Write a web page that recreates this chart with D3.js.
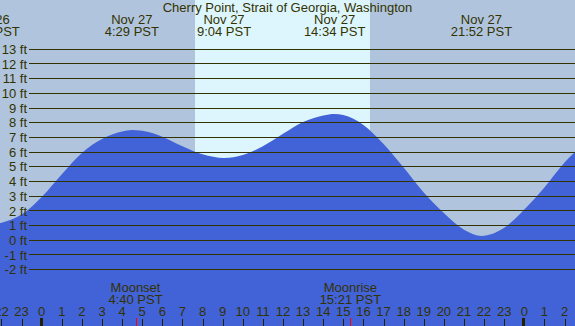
<!DOCTYPE html>
<html><head><meta charset="utf-8">
<script src="https://cdn.jsdelivr.net/npm/d3@7"></script>
<style>html,body{margin:0;padding:0;background:#b0c4de;overflow:hidden}svg{display:block}</style>
</head><body>
<svg id="c" width="575" height="326"></svg>
<script>
const title = "Cherry Point, Strait of Georgia, Washington";
// tide curve readings: hours from midnight Nov 27 (PST), height in ft
const tideHours = [-3, -2.62, -2, -1, 0, 1, 2, 3, 4, 4.48, 5, 6, 7, 8, 9.07, 10, 11, 12, 13, 14, 14.57, 15, 16, 17, 18, 19, 20, 21, 21.87, 23, 24, 25, 26, 27];
const tideFeet  = [1.15, 1.1, 1.2, 1.75, 2.95, 4.5, 5.95, 6.9, 7.4, 7.5, 7.45, 7.05, 6.4, 5.85, 5.6, 5.8, 6.4, 7.25, 8.05, 8.5, 8.6, 8.53, 7.85, 6.55, 4.95, 3.25, 1.85, 0.72, 0.3, 0.85, 2.1, 3.6, 5.3, 6.6];
// high/low tide labels
const eventHours = [-2.62, 4.483, 9.067, 14.567, 21.867];
const eventDates = ["Nov 26", "Nov 27", "Nov 27", "Nov 27", "Nov 27"];
const eventTimes = ["21:23 PST", "4:29 PST", "9:04 PST", "14:34 PST", "21:52 PST"];
// daylight
const sunrise = 7.623, sunset = 16.325;
// moon
const moonHours = [4.667, 15.35];
const moonNames = ["Moonset", "Moonrise"];
const moonTimes = ["4:40 PST", "15:21 PST"];
// axis ticks
const feetTicks = [13, 12, 11, 10, 9, 8, 7, 6, 5, 4, 3, 2, 1, 0, -1, -2];
const hourTicks = d3.range(-2, 27);

const W = 575, H = 326;
const ink = "#333300";
const svg = d3.select("#c");
const x = d3.scaleLinear().domain([0, 24]).range([41.7, 524.3]);
const y = d3.scaleLinear().domain([0, 13]).range([240.3, 49.3]);
const font = "'Liberation Sans', Arial, sans-serif";

svg.append("rect").attr("width", W).attr("height", H).attr("fill", "#b0c4de");
svg.append("rect").attr("x", x(sunrise)).attr("y", 0).attr("width", x(sunset) - x(sunrise)).attr("height", H).attr("fill", "#ddf6fd");

const pts = tideHours.map((h, i) => [h, tideFeet[i]]);
const area = d3.area().x(d => x(d[0])).y0(H).y1(d => y(d[1])).curve(d3.curveMonotoneX);
svg.append("path").attr("d", area(pts)).attr("fill", "#4262d8");

// grid lines and labels
const g = svg.append("g");
feetTicks.forEach(v => {
  const yy = Math.floor(y(v)) + 0.5;
  g.append("line").attr("x1", 29).attr("x2", W).attr("y1", yy).attr("y2", yy)
    .attr("stroke", ink).attr("stroke-width", 1).attr("shape-rendering", "crispEdges");
  g.append("text").attr("x", 27).attr("y", y(v) + 4.6).attr("text-anchor", "end")
    .attr("font-family", font).attr("font-size", 13).attr("fill", ink).text(v + " ft");
});

svg.append("text").attr("x", W / 2).attr("y", 12).attr("text-anchor", "middle")
  .attr("font-family", font).attr("font-size", 13).attr("fill", ink).text(title);

eventHours.forEach((h, i) => {
  svg.append("text").attr("x", x(h)).attr("y", 24).attr("text-anchor", "middle")
    .attr("font-family", font).attr("font-size", 13).attr("fill", ink).text(eventDates[i]);
  svg.append("text").attr("x", x(h)).attr("y", 36).attr("text-anchor", "middle")
    .attr("font-family", font).attr("font-size", 13).attr("fill", ink).text(eventTimes[i]);
});

// hour axis
hourTicks.forEach(h => {
  const xx = Math.round(x(h));
  const lab = ((h % 24) + 24) % 24;
  if (lab === 0) {
    svg.append("rect").attr("x", xx - 2).attr("y", 318).attr("width", 3).attr("height", 8)
      .attr("fill", "#222200").attr("shape-rendering", "crispEdges");
  } else {
    svg.append("line").attr("x1", xx + 0.5).attr("x2", xx + 0.5).attr("y1", 319).attr("y2", H)
      .attr("stroke", "#222200").attr("shape-rendering", "crispEdges");
  }
  svg.append("text").attr("x", x(h)).attr("y", 316).attr("text-anchor", "middle")
    .attr("font-family", font).attr("font-size", 13).attr("fill", ink).text(lab);
});

moonHours.forEach((h, i) => {
  const xx = Math.round(x(h));
  svg.append("line").attr("x1", xx + 0.5).attr("x2", xx + 0.5).attr("y1", 318).attr("y2", H)
    .attr("stroke", "#ff0000").attr("shape-rendering", "crispEdges");
  svg.append("text").attr("x", x(h)).attr("y", 292).attr("text-anchor", "middle")
    .attr("font-family", font).attr("font-size", 13).attr("fill", ink).text(moonNames[i]);
  svg.append("text").attr("x", x(h)).attr("y", 304).attr("text-anchor", "middle")
    .attr("font-family", font).attr("font-size", 13).attr("fill", ink).text(moonTimes[i]);
});
</script>
</body></html>
